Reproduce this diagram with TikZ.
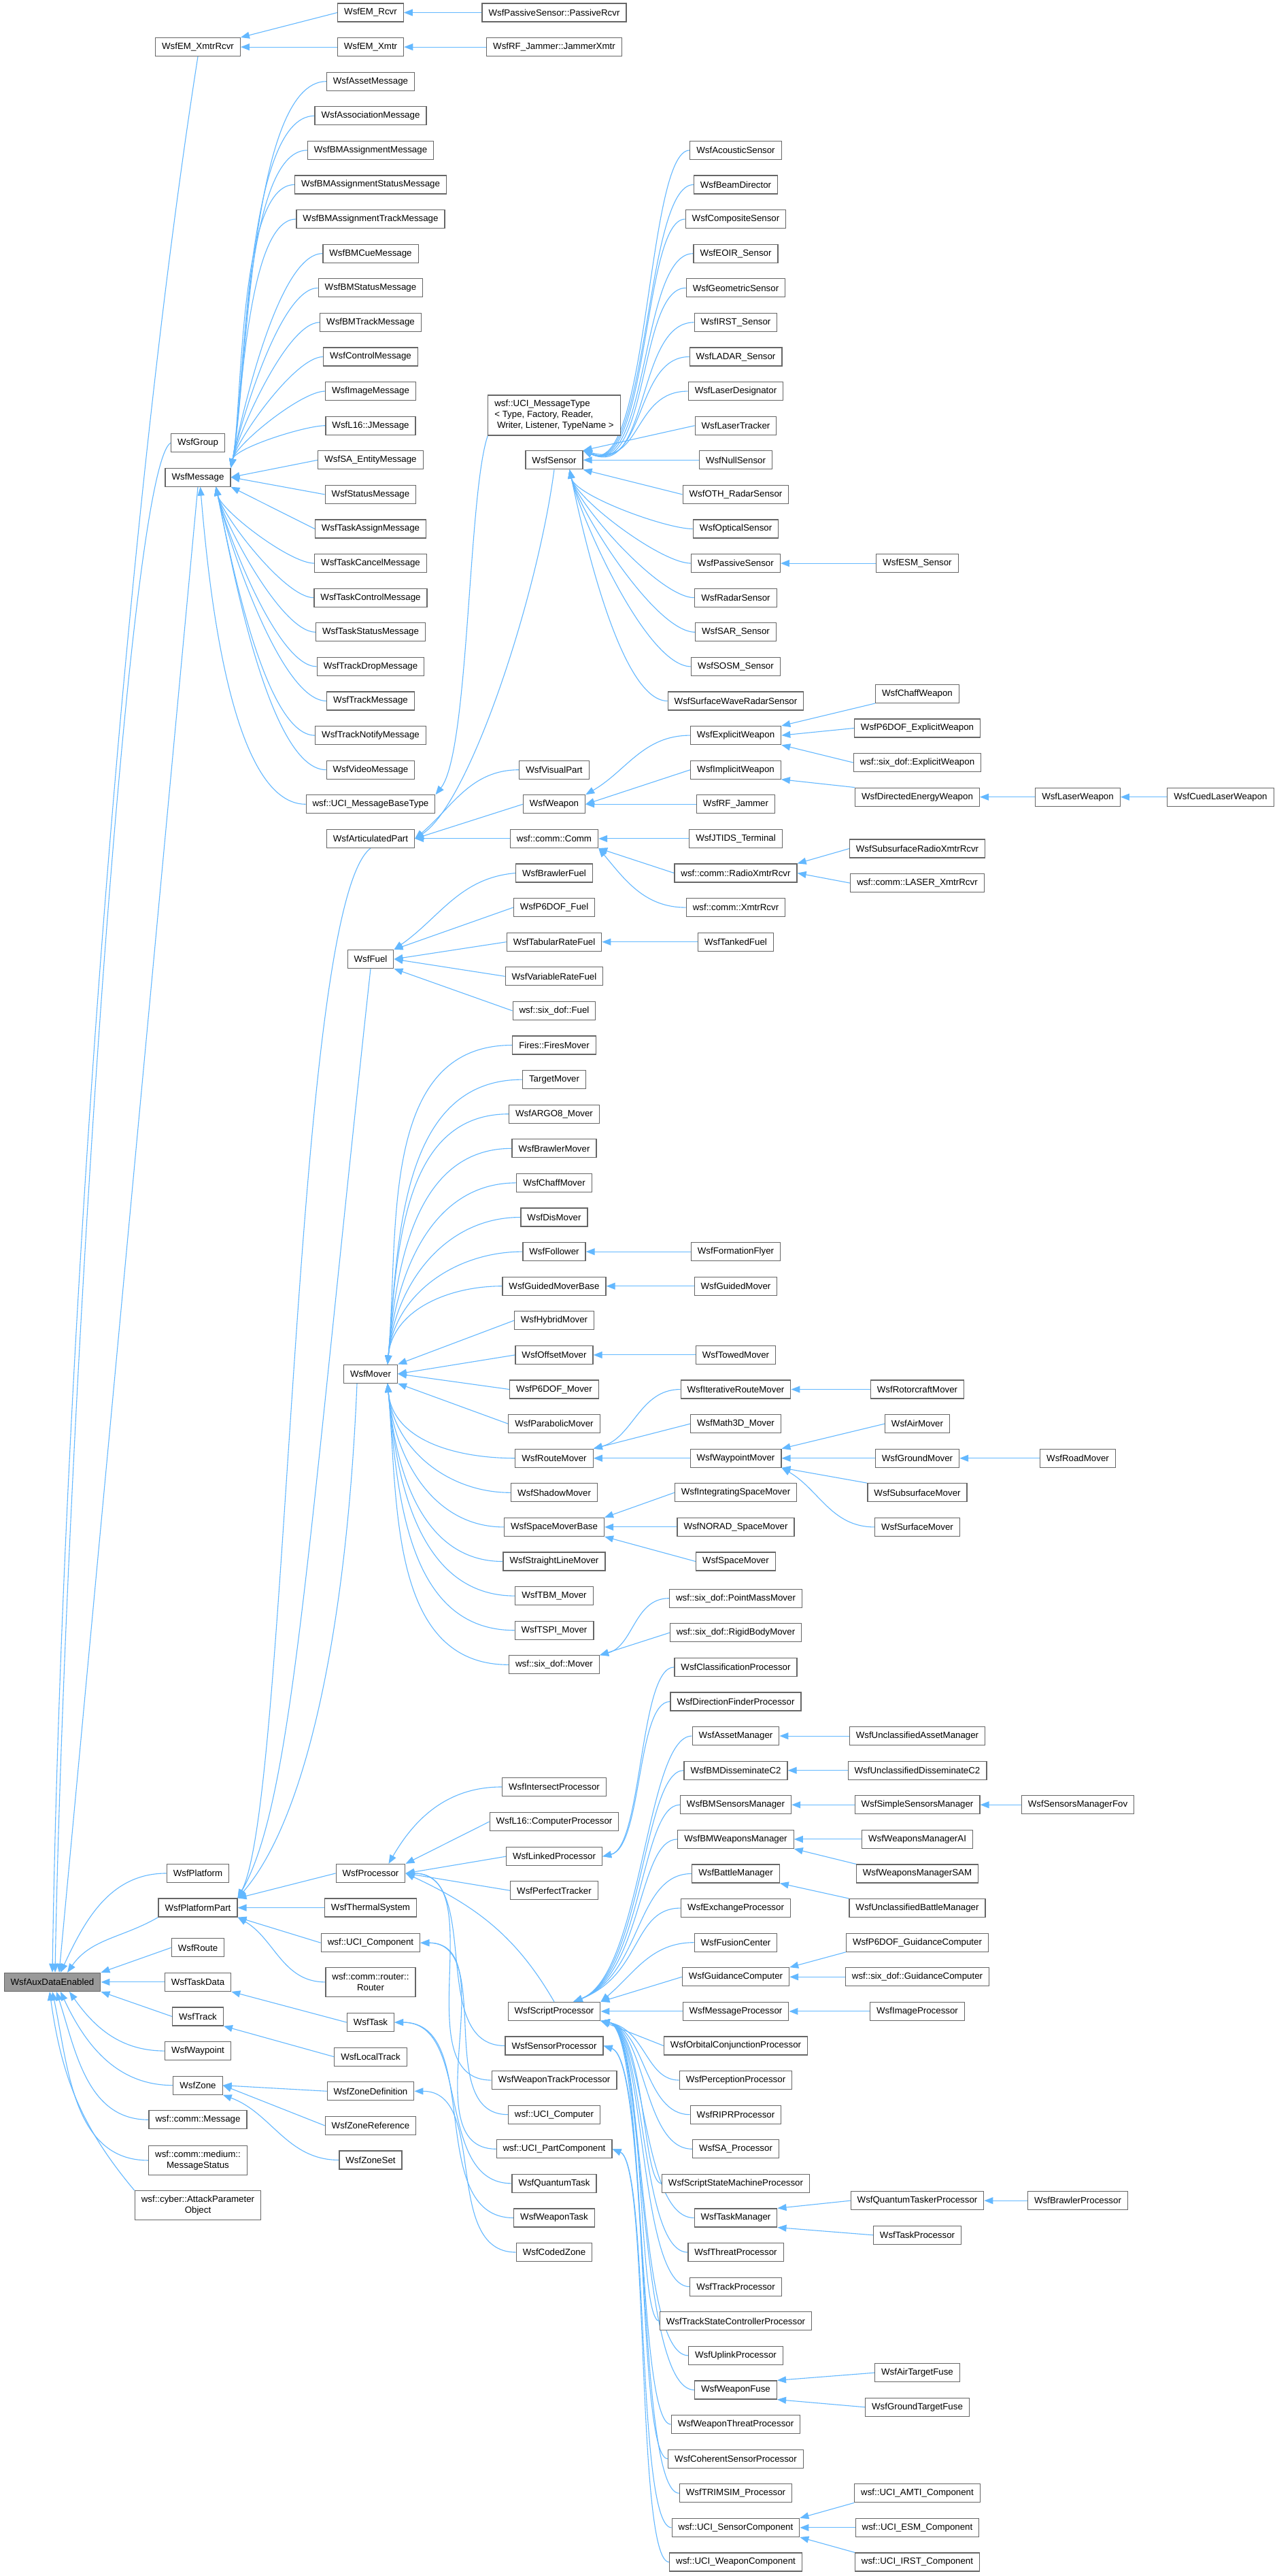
\documentclass[tikz,border=0pt]{standalone}
\usepackage{fontspec}
\setmainfont{Liberation Sans}
\usetikzlibrary{arrows.meta,backgrounds}
\definecolor{edgeblue}{HTML}{63B8FF}
\definecolor{boxgray}{HTML}{666666}
\definecolor{rootgray}{HTML}{999999}

\begin{document}
\begin{tikzpicture}[x=1pt, y=-50.6pt]
	\tikzset{every node/.style=
        {draw=boxgray, fill=white, line width=1.2pt, inner xsep=9.5pt, inner ysep=2pt,
         minimum height=27pt, font=\fontsize{13.3}{16}\selectfont},
      inheritline/.style={draw=edgeblue, line width=1.1pt, -{Triangle[length=13pt,width=10pt]}},
      fromabove/.style={out=180, in=78, looseness=.5},
      frombelow/.style={out=180, in=-78, looseness=.5},
      twolines/.style={align=center, minimum height=43pt}
     }
	\useasboundingbox (0,-0.3656) rectangle (1877,74.476);
	% level 0 and 1
	\node[fill=rootgray] (root) at (77,57.22) {WsfAuxDataEnabled};
	\node (l1n1) at (291,1) {WsfEM\_XmtrRcvr};
	\node (l1n2) at (291,12.5) {WsfGroup};
	\node (l1n3) at (291,13.5) {WsfMessage};
	\node (l1n4) at (291,54.06) {WsfPlatform};
	\node (l1n5) at (291,55.06) {WsfPlatformPart};
	\node (l1n6) at (291,56.22) {WsfRoute};
	\node (l1n7) at (291,57.22) {WsfTaskData};
	\node (l1n8) at (291,58.22) {WsfTrack};
	\node (l1n9) at (291,59.22) {WsfWaypoint};
	\node (l1n10) at (291,60.22) {WsfZone};
	\node (l1n11) at (291,61.22) {wsf::comm::Message};
	\node[twolines] (l1n12) at (291,62.4) {wsf::comm::medium::\\MessageStatus};
	\node[twolines] (l1n13) at (291,63.71) {wsf::cyber::AttackParameter\\Object};
	% level 2
	\node (l2n1) at (545,0) {WsfEM\_Rcvr};
	\node (l2n2) at (545,1) {WsfEM\_Xmtr};
	\node (l2n3) at (545,2) {WsfAssetMessage};
	\node (l2n4) at (545,3) {WsfAssociationMessage};
	\node (l2n5) at (545,4) {WsfBMAssignmentMessage};
	\node (l2n6) at (545,5) {WsfBMAssignmentStatusMessage};
	\node (l2n7) at (545,6) {WsfBMAssignmentTrackMessage};
	\node (l2n8) at (545,7) {WsfBMCueMessage};
	\node (l2n9) at (545,8) {WsfBMStatusMessage};
	\node (l2n10) at (545,9) {WsfBMTrackMessage};
	\node (l2n11) at (545,10) {WsfControlMessage};
	\node (l2n12) at (545,11) {WsfImageMessage};
	\node (l2n13) at (545,12) {WsfL16::JMessage};
	\node (l2n14) at (545,13) {WsfSA\_EntityMessage};
	\node (l2n15) at (545,14) {WsfStatusMessage};
	\node (l2n16) at (545,15) {WsfTaskAssignMessage};
	\node (l2n17) at (545,16) {WsfTaskCancelMessage};
	\node (l2n18) at (545,17) {WsfTaskControlMessage};
	\node (l2n19) at (545,18) {WsfTaskStatusMessage};
	\node (l2n20) at (545,19) {WsfTrackDropMessage};
	\node (l2n21) at (545,20) {WsfTrackMessage};
	\node (l2n22) at (545,21) {WsfTrackNotifyMessage};
	\node (l2n23) at (545,22) {WsfVideoMessage};
	\node (l2n24) at (545,23) {wsf::UCI\_MessageBaseType};
	\node (l2n25) at (545,24) {WsfArticulatedPart};
	\node (l2n26) at (545,27.5) {WsfFuel};
	\node (l2n27) at (545,39.55) {WsfMover};
	\node (l2n28) at (545,54.06) {WsfProcessor};
	\node (l2n29) at (545,55.06) {WsfThermalSystem};
	\node (l2n30) at (545,56.08) {wsf::UCI\_Component};
	\node[twolines] (l2n31) at (545,57.22) {wsf::comm::router::\\Router};
	\node (l2n32) at (545,58.39) {WsfTask};
	\node (l2n33) at (545,59.39) {WsfLocalTrack};
	\node (l2n34) at (545,60.39) {WsfZoneDefinition};
	\node (l2n35) at (545,61.39) {WsfZoneReference};
	\node (l2n36) at (545,62.39) {WsfZoneSet};
	% level 3
	\node (l3n1) at (815,0) {WsfPassiveSensor::PassiveRcvr};
	\node (l3n2) at (815,1) {WsfRF\_Jammer::JammerXmtr};
	\node[align=left, minimum height=59pt] (l3n3) at (815,11.7) {wsf::UCI\_MessageType\\< Type, Factory, Reader,\\~Writer, Listener, TypeName >};
	\node (l3n4) at (815,13) {WsfSensor};
	\node (l3n5) at (815,22) {WsfVisualPart};
	\node (l3n6) at (815,23) {WsfWeapon};
	\node (l3n7) at (815,24) {wsf::comm::Comm};
	\node (l3n8) at (815,25) {WsfBrawlerFuel};
	\node (l3n9) at (815,26) {WsfP6DOF\_Fuel};
	\node (l3n10) at (815,27) {WsfTabularRateFuel};
	\node (l3n11) at (815,28) {WsfVariableRateFuel};
	\node (l3n12) at (815,29) {wsf::six\_dof::Fuel};
	\node (l3n13) at (815,30) {Fires::FiresMover};
	\node (l3n14) at (815,31) {TargetMover};
	\node (l3n15) at (815,32) {WsfARGO8\_Mover};
	\node (l3n16) at (815,33) {WsfBrawlerMover};
	\node (l3n17) at (815,34) {WsfChaffMover};
	\node (l3n18) at (815,35) {WsfDisMover};
	\node (l3n19) at (815,36) {WsfFollower};
	\node (l3n20) at (815,37) {WsfGuidedMoverBase};
	\node (l3n21) at (815,38) {WsfHybridMover};
	\node (l3n22) at (815,39) {WsfOffsetMover};
	\node (l3n23) at (815,40) {WsfP6DOF\_Mover};
	\node (l3n24) at (815,41) {WsfParabolicMover};
	\node (l3n25) at (815,42) {WsfRouteMover};
	\node (l3n26) at (815,43) {WsfShadowMover};
	\node (l3n27) at (815,44) {WsfSpaceMoverBase};
	\node (l3n28) at (815,45) {WsfStraightLineMover};
	\node (l3n29) at (815,46) {WsfTBM\_Mover};
	\node (l3n30) at (815,47) {WsfTSPI\_Mover};
	\node (l3n31) at (815,48) {wsf::six\_dof::Mover};
	\node (l3n32) at (815,51.55) {WsfIntersectProcessor};
	\node (l3n33) at (815,52.56) {WsfL16::ComputerProcessor};
	\node (l3n34) at (815,53.57) {WsfLinkedProcessor};
	\node (l3n35) at (815,54.56) {WsfPerfectTracker};
	\node (l3n36) at (815,58.07) {WsfScriptProcessor};
	\node (l3n37) at (815,59.07) {WsfSensorProcessor};
	\node (l3n38) at (815,60.07) {WsfWeaponTrackProcessor};
	\node (l3n39) at (815,61.07) {wsf::UCI\_Computer};
	\node (l3n40) at (815,62.07) {wsf::UCI\_PartComponent};
	\node (l3n41) at (815,63.07) {WsfQuantumTask};
	\node (l3n42) at (815,64.07) {WsfWeaponTask};
	\node (l3n43) at (815,65.07) {WsfCodedZone};
	% level 4
	\node (l4n1) at (1082,4) {WsfAcousticSensor};
	\node (l4n2) at (1082,5) {WsfBeamDirector};
	\node (l4n3) at (1082,6) {WsfCompositeSensor};
	\node (l4n4) at (1082,7) {WsfEOIR\_Sensor};
	\node (l4n5) at (1082,8) {WsfGeometricSensor};
	\node (l4n6) at (1082,9) {WsfIRST\_Sensor};
	\node (l4n7) at (1082,10) {WsfLADAR\_Sensor};
	\node (l4n8) at (1082,11) {WsfLaserDesignator};
	\node (l4n9) at (1082,12) {WsfLaserTracker};
	\node (l4n10) at (1082,13) {WsfNullSensor};
	\node (l4n11) at (1082,14) {WsfOTH\_RadarSensor};
	\node (l4n12) at (1082,15) {WsfOpticalSensor};
	\node (l4n13) at (1082,16) {WsfPassiveSensor};
	\node (l4n14) at (1082,17) {WsfRadarSensor};
	\node (l4n15) at (1082,18) {WsfSAR\_Sensor};
	\node (l4n16) at (1082,19) {WsfSOSM\_Sensor};
	\node (l4n17) at (1082,20) {WsfSurfaceWaveRadarSensor};
	\node (l4n18) at (1082,21) {WsfExplicitWeapon};
	\node (l4n19) at (1082,22) {WsfImplicitWeapon};
	\node (l4n20) at (1082,23) {WsfRF\_Jammer};
	\node (l4n21) at (1082,24) {WsfJTIDS\_Terminal};
	\node (l4n22) at (1082,25) {wsf::comm::RadioXmtrRcvr};
	\node (l4n23) at (1082,26) {wsf::comm::XmtrRcvr};
	\node (l4n24) at (1082,27) {WsfTankedFuel};
	\node (l4n25) at (1082,36) {WsfFormationFlyer};
	\node (l4n26) at (1082,37) {WsfGuidedMover};
	\node (l4n27) at (1082,39) {WsfTowedMover};
	\node (l4n28) at (1082,40) {WsfIterativeRouteMover};
	\node (l4n29) at (1082,41) {WsfMath3D\_Mover};
	\node (l4n30) at (1082,42) {WsfWaypointMover};
	\node (l4n31) at (1082,43) {WsfIntegratingSpaceMover};
	\node (l4n32) at (1082,44) {WsfNORAD\_SpaceMover};
	\node (l4n33) at (1082,45) {WsfSpaceMover};
	\node (l4n34) at (1082,46.07) {wsf::six\_dof::PointMassMover};
	\node (l4n35) at (1082,47.07) {wsf::six\_dof::RigidBodyMover};
	\node (l4n36) at (1082,48.07) {WsfClassificationProcessor};
	\node (l4n37) at (1082,49.07) {WsfDirectionFinderProcessor};
	\node (l4n38) at (1082,50.07) {WsfAssetManager};
	\node (l4n39) at (1082,51.07) {WsfBMDisseminateC2};
	\node (l4n40) at (1082,52.07) {WsfBMSensorsManager};
	\node (l4n41) at (1082,53.07) {WsfBMWeaponsManager};
	\node (l4n42) at (1082,54.07) {WsfBattleManager};
	\node (l4n43) at (1082,55.07) {WsfExchangeProcessor};
	\node (l4n44) at (1082,56.07) {WsfFusionCenter};
	\node (l4n45) at (1082,57.07) {WsfGuidanceComputer};
	\node (l4n46) at (1082,58.07) {WsfMessageProcessor};
	\node (l4n47) at (1082,59.07) {WsfOrbitalConjunctionProcessor};
	\node (l4n48) at (1082,60.07) {WsfPerceptionProcessor};
	\node (l4n49) at (1082,61.07) {WsfRIPRProcessor};
	\node (l4n50) at (1082,62.07) {WsfSA\_Processor};
	\node (l4n51) at (1082,63.07) {WsfScriptStateMachineProcessor};
	\node (l4n52) at (1082,64.07) {WsfTaskManager};
	\node (l4n53) at (1082,65.07) {WsfThreatProcessor};
	\node (l4n54) at (1082,66.07) {WsfTrackProcessor};
	\node (l4n55) at (1082,67.07) {WsfTrackStateControllerProcessor};
	\node (l4n56) at (1082,68.07) {WsfUplinkProcessor};
	\node (l4n57) at (1082,69.07) {WsfWeaponFuse};
	\node (l4n58) at (1082,70.07) {WsfWeaponThreatProcessor};
	\node (l4n59) at (1082,71.07) {WsfCoherentSensorProcessor};
	\node (l4n60) at (1082,72.07) {WsfTRIMSIM\_Processor};
	\node (l4n61) at (1082,73.07) {wsf::UCI\_SensorComponent};
	\node (l4n62) at (1082,74.07) {wsf::UCI\_WeaponComponent};
	% level 5
	\node (l5n1) at (1349,16) {WsfESM\_Sensor};
	\node (l5n2) at (1349,19.79) {WsfChaffWeapon};
	\node (l5n3) at (1349,20.79) {WsfP6DOF\_ExplicitWeapon};
	\node (l5n4) at (1349,21.79) {wsf::six\_dof::ExplicitWeapon};
	\node (l5n5) at (1349,22.79) {WsfDirectedEnergyWeapon};
	\node (l5n6) at (1349,24.29) {WsfSubsurfaceRadioXmtrRcvr};
	\node (l5n7) at (1349,25.29) {wsf::comm::LASER\_XmtrRcvr};
	\node (l5n8) at (1349,40) {WsfRotorcraftMover};
	\node (l5n9) at (1349,41) {WsfAirMover};
	\node (l5n10) at (1349,42) {WsfGroundMover};
	\node (l5n11) at (1349,43) {WsfSubsurfaceMover};
	\node (l5n12) at (1349,44) {WsfSurfaceMover};
	\node (l5n13) at (1349,50.07) {WsfUnclassifiedAssetManager};
	\node (l5n14) at (1349,51.07) {WsfUnclassifiedDisseminateC2};
	\node (l5n15) at (1349,52.07) {WsfSimpleSensorsManager};
	\node (l5n16) at (1349,53.07) {WsfWeaponsManagerAI};
	\node (l5n17) at (1349,54.07) {WsfWeaponsManagerSAM};
	\node (l5n18) at (1349,55.07) {WsfUnclassifiedBattleManager};
	\node (l5n19) at (1349,56.07) {WsfP6DOF\_GuidanceComputer};
	\node (l5n20) at (1349,57.07) {wsf::six\_dof::GuidanceComputer};
	\node (l5n21) at (1349,58.07) {WsfImageProcessor};
	\node (l5n22) at (1349,63.57) {WsfQuantumTaskerProcessor};
	\node (l5n23) at (1349,64.57) {WsfTaskProcessor};
	\node (l5n24) at (1349,68.57) {WsfAirTargetFuse};
	\node (l5n25) at (1349,69.57) {WsfGroundTargetFuse};
	\node (l5n26) at (1349,72.07) {wsf::UCI\_AMTI\_Component};
	\node (l5n27) at (1349,73.07) {wsf::UCI\_ESM\_Component};
	\node (l5n28) at (1349,74.07) {wsf::UCI\_IRST\_Component};
	% level 6 and 7
	\node (l6n1) at (1585,22.79) {WsfLaserWeapon};
	\node (l6n2) at (1585,42) {WsfRoadMover};
	\node (l6n3) at (1585,52.07) {WsfSensorsManagerFov};
	\node (l6n4) at (1585,63.57) {WsfBrawlerProcessor};
	\node (l7n1) at (1795,22.79) {WsfCuedLaserWeapon};
	\begin{scope}[on background layer]
	\fill[white] (0,-0.3656) rectangle (1877,74.476);
	% into the root
	\draw[inheritline] (l1n1.south) .. controls (175,15.9) and (90,40) .. (root.north);
	\draw[inheritline] (l1n2.west) .. controls (185,13.3) and (95,42) .. ([xshift=4pt]root.north);
	\draw[inheritline] (l1n3.south) -- ([xshift=10pt]root.north);
	\draw[inheritline] (l1n4.west) to[out=180,in=65] ([xshift=12pt]root.north);
	\draw[inheritline] (l1n5.south west) to[out=210,in=55] ([xshift=22pt]root.north);
	\draw[inheritline] (l1n6.west) -- (root.north east);
	\draw[inheritline] (l1n7.west) -- (root.east);
	\draw[inheritline] (l1n8.west) -- (root.south east);
	\draw[inheritline] (l1n9.west) to[out=180,in=-55] ([xshift=25pt]root.south);
	\draw[inheritline] (l1n10.west) to[out=180,in=-65] ([xshift=12pt]root.south);
	\draw[inheritline] (l1n11.west) to[out=180,in=-72] ([xshift=6pt]root.south);
	\draw[inheritline] (l1n12.west) to[out=180,in=-78] (root.south);
	\draw[inheritline] (l1n13.north west) to[out=130,in=-82] ([xshift=-4pt]root.south);
	% level 2 to level 1
	\draw[inheritline] (l2n1.west) -- (l1n1.north east);
	\draw[inheritline] (l2n2.west) -- (l1n1.east);
	\draw[inheritline] (l2n3.west) to[fromabove] (l1n3.north east);
	\draw[inheritline] (l2n4.west) to[fromabove] (l1n3.north east);
	\draw[inheritline] (l2n5.west) to[fromabove] (l1n3.north east);
	\draw[inheritline] (l2n6.west) to[fromabove] (l1n3.north east);
	\draw[inheritline] (l2n7.west) to[fromabove] (l1n3.north east);
	\draw[inheritline] (l2n8.west) to[fromabove] (l1n3.north east);
	\draw[inheritline] (l2n9.west) to[fromabove] (l1n3.north east);
	\draw[inheritline] (l2n10.west) to[fromabove] (l1n3.north east);
	\draw[inheritline] (l2n11.west) to[fromabove] (l1n3.north east);
	\draw[inheritline] (l2n12.west) to[fromabove] (l1n3.north east);
	\draw[inheritline] (l2n13.west) to[fromabove] (l1n3.north east);
	\draw[inheritline] (l2n14.west) -- (l1n3.east);
	\draw[inheritline] (l2n15.west) -- (l1n3.east);
	\draw[inheritline] (l2n16.west) -- (l1n3.south east);
	\draw[inheritline] (l2n17.west) to[frombelow] ([xshift=-22pt]l1n3.south east);
	\draw[inheritline] (l2n18.west) to[frombelow] ([xshift=-22pt]l1n3.south east);
	\draw[inheritline] (l2n19.west) to[frombelow] ([xshift=-22pt]l1n3.south east);
	\draw[inheritline] (l2n20.west) to[frombelow] ([xshift=-22pt]l1n3.south east);
	\draw[inheritline] (l2n21.west) to[frombelow] ([xshift=-22pt]l1n3.south east);
	\draw[inheritline] (l2n22.west) to[frombelow] ([xshift=-22pt]l1n3.south east);
	\draw[inheritline] (l2n23.west) to[frombelow] ([xshift=-22pt]l1n3.south east);
	\draw[inheritline] (l2n24.west) to[out=180,in=-85,looseness=.6] ([xshift=-45pt]l1n3.south east);
	\draw[inheritline] (l2n25.south) .. controls (430,26) and (425,52) .. (l1n5.north east);
	\draw[inheritline] (l2n26.south) .. controls (450,45) and (430,52) .. (l1n5.north east);
	\draw[inheritline] ([xshift=-20pt]l2n27.south) .. controls (510,47) and (450,52.5) .. (l1n5.north east);
	\draw[inheritline] (l2n28.west) -- (l1n5.north east);
	\draw[inheritline] (l2n29.west) -- (l1n5.east);
	\draw[inheritline] (l2n30.west) -- (l1n5.south east);
	\draw[inheritline] (l2n31.west) to[out=180,in=-30] (l1n5.south east);
	\draw[inheritline] (l2n32.west) -- (l1n7.south east);
	\draw[inheritline] (l2n33.west) -- (l1n8.south east);
	\draw[inheritline] (l2n34.west) -- (l1n10.east);
	\draw[inheritline] (l2n35.west) -- (l1n10.east);
	\draw[inheritline] (l2n36.west) to[out=180,in=-20] (l1n10.south east);
	% level 3 to level 2
	\draw[inheritline] (l3n1.west) -- (l2n1.east);
	\draw[inheritline] (l3n2.west) -- (l2n2.east);
	\draw[inheritline] (l3n3.south west) .. controls (688,14) and (690,21.5) .. (l2n24.north east);
	\draw[inheritline] (l3n4.south) .. controls (790,17) and (690,23) .. (l2n25.east);
	\draw[inheritline] (l3n5.west) to[out=180,in=40] (l2n25.east);
	\draw[inheritline] (l3n6.west) -- (l2n25.east);
	\draw[inheritline] (l3n7.west) -- (l2n25.east);
	\draw[inheritline] (l3n8.west) to[out=185,in=35] (l2n26.north east);
	\draw[inheritline] (l3n9.west) -- (l2n26.north east);
	\draw[inheritline] (l3n10.west) -- (l2n26.east);
	\draw[inheritline] (l3n11.west) -- (l2n26.east);
	\draw[inheritline] (l3n12.west) -- (l2n26.south east);
	\draw[inheritline] (l3n13.west) to[out=180,in=85] ([xshift=-15pt]l2n27.north east);
	\draw[inheritline] (l3n14.west) to[out=180,in=85] ([xshift=-15pt]l2n27.north east);
	\draw[inheritline] (l3n15.west) to[out=180,in=85] ([xshift=-15pt]l2n27.north east);
	\draw[inheritline] (l3n16.west) to[out=180,in=85] ([xshift=-15pt]l2n27.north east);
	\draw[inheritline] (l3n17.west) to[out=180,in=85] ([xshift=-15pt]l2n27.north east);
	\draw[inheritline] (l3n18.west) to[out=180,in=85] ([xshift=-15pt]l2n27.north east);
	\draw[inheritline] (l3n19.west) to[out=180,in=85] ([xshift=-15pt]l2n27.north east);
	\draw[inheritline] (l3n20.west) to[out=180,in=85] ([xshift=-15pt]l2n27.north east);
	\draw[inheritline] (l3n21.west) -- (l2n27.north east);
	\draw[inheritline] (l3n22.west) -- (l2n27.east);
	\draw[inheritline] (l3n23.west) -- (l2n27.east);
	\draw[inheritline] (l3n24.west) -- (l2n27.south east);
	\draw[inheritline] (l3n25.west) to[out=180,in=-85] ([xshift=-15pt]l2n27.south east);
	\draw[inheritline] (l3n26.west) to[out=180,in=-85] ([xshift=-15pt]l2n27.south east);
	\draw[inheritline] (l3n27.west) to[out=180,in=-85] ([xshift=-15pt]l2n27.south east);
	\draw[inheritline] (l3n28.west) to[out=180,in=-85] ([xshift=-15pt]l2n27.south east);
	\draw[inheritline] (l3n29.west) to[out=180,in=-85] ([xshift=-15pt]l2n27.south east);
	\draw[inheritline] (l3n30.west) to[out=180,in=-85] ([xshift=-15pt]l2n27.south east);
	\draw[inheritline] (l3n31.west) to[out=180,in=-85] ([xshift=-15pt]l2n27.south east);
	\draw[inheritline] (l3n32.west) to[out=180,in=60] ([xshift=-25pt]l2n28.north east);
	\draw[inheritline] (l3n33.west) -- (l2n28.north east);
	\draw[inheritline] (l3n34.west) -- (l2n28.east);
	\draw[inheritline] (l3n35.west) -- (l2n28.east);
	\draw[inheritline] (l3n36.north) to[out=120,in=-25] (l2n28.east);
	\draw[inheritline] (l3n37.west) to[out=180,in=0] (l2n28.east);
	\draw[inheritline] (l3n38.west) to[out=180,in=0] (l2n28.east);
	\draw[inheritline] (l3n39.west) to[out=180,in=0] (l2n30.east);
	\draw[inheritline] (l3n40.west) to[out=180,in=0] (l2n30.east);
	\draw[inheritline] (l3n41.west) to[out=180,in=0] (l2n32.east);
	\draw[inheritline] (l3n42.west) to[out=180,in=0] (l2n32.east);
	\draw[inheritline] (l3n43.west) to[out=180,in=0] (l2n34.east);
	% level 4 to level 3
	\draw[inheritline] (l4n1.west) .. controls (950,4) and (955,13.6) .. (l3n4.north east);
	\draw[inheritline] (l4n2.west) .. controls (947,5) and (955,13.6) .. (l3n4.north east);
	\draw[inheritline] (l4n3.west) .. controls (944,6) and (955,13.6) .. (l3n4.north east);
	\draw[inheritline] (l4n4.west) .. controls (941,7) and (955,13.6) .. (l3n4.north east);
	\draw[inheritline] (l4n5.west) .. controls (938,8) and (955,13.6) .. (l3n4.north east);
	\draw[inheritline] (l4n6.west) .. controls (935,9) and (955,13.6) .. (l3n4.north east);
	\draw[inheritline] (l4n7.west) .. controls (932,10) and (950,13.4) .. (l3n4.north east);
	\draw[inheritline] (l4n8.west) .. controls (930,11) and (945,13.2) .. (l3n4.north east);
	\draw[inheritline] (l4n9.west) -- (l3n4.north east);
	\draw[inheritline] (l4n10.west) -- (l3n4.east);
	\draw[inheritline] (l4n11.west) -- (l3n4.south east);
	\draw[inheritline] (l4n12.west) to[frombelow] ([xshift=-20pt]l3n4.south east);
	\draw[inheritline] (l4n13.west) to[frombelow] ([xshift=-20pt]l3n4.south east);
	\draw[inheritline] (l4n14.west) to[frombelow] ([xshift=-20pt]l3n4.south east);
	\draw[inheritline] (l4n15.west) to[frombelow] ([xshift=-20pt]l3n4.south east);
	\draw[inheritline] (l4n16.west) to[frombelow] ([xshift=-20pt]l3n4.south east);
	\draw[inheritline] (l4n17.west) to[frombelow] ([xshift=-20pt]l3n4.south east);
	\draw[inheritline] (l4n18.west) to[out=180,in=30] (l3n6.north east);
	\draw[inheritline] (l4n19.west) -- (l3n6.east);
	\draw[inheritline] (l4n20.west) -- (l3n6.east);
	\draw[inheritline] (l4n21.west) -- (l3n7.east);
	\draw[inheritline] (l4n22.west) -- (l3n7.south east);
	\draw[inheritline] (l4n23.west) to[out=180,in=-50] (l3n7.south east);
	\draw[inheritline] (l4n24.west) -- (l3n10.east);
	\draw[inheritline] (l4n25.west) -- (l3n19.east);
	\draw[inheritline] (l4n26.west) -- (l3n20.east);
	\draw[inheritline] (l4n27.west) -- (l3n22.east);
	\draw[inheritline] (l4n28.west) to[out=180,in=15] (l3n25.north east);
	\draw[inheritline] (l4n29.west) -- (l3n25.north east);
	\draw[inheritline] (l4n30.west) -- (l3n25.east);
	\draw[inheritline] (l4n31.west) -- (l3n27.north east);
	\draw[inheritline] (l4n32.west) -- (l3n27.east);
	\draw[inheritline] (l4n33.west) -- (l3n27.south east);
	\draw[inheritline] (l4n34.west) to[out=180,in=15] (l3n31.north east);
	\draw[inheritline] (l4n35.west) -- (l3n31.north east);
	\draw[inheritline] (l4n36.west) .. controls (940,48.07) and (945,53.3) .. (l3n34.east);
	\draw[inheritline] (l4n37.west) .. controls (936,49.07) and (945,53.3) .. (l3n34.east);
	\draw[inheritline] (l4n38.west) .. controls (950,50.07) and (945,57) .. ([xshift=-40pt]l3n36.north east);
	\draw[inheritline] (l4n39.west) .. controls (946,51.07) and (945,57) .. ([xshift=-40pt]l3n36.north east);
	\draw[inheritline] (l4n40.west) .. controls (942,52.07) and (945,57) .. ([xshift=-40pt]l3n36.north east);
	\draw[inheritline] (l4n41.west) .. controls (938,53.07) and (945,57) .. ([xshift=-40pt]l3n36.north east);
	\draw[inheritline] (l4n42.west) .. controls (934,54.07) and (945,57) .. ([xshift=-40pt]l3n36.north east);
	\draw[inheritline] (l4n43.west) .. controls (930,55.07) and (945,57) .. ([xshift=-40pt]l3n36.north east);
	\draw[inheritline] (l4n44.west) to[out=180,in=40] (l3n36.north east);
	\draw[inheritline] (l4n45.west) -- (l3n36.north east);
	\draw[inheritline] (l4n46.west) -- (l3n36.east);
	\draw[inheritline] (l4n47.west) -- (l3n36.south east);
	\draw[inheritline] (l4n48.west) .. controls (950,60.07) and (950,58.6) .. (l3n36.south east);
	\draw[inheritline] (l4n49.west) .. controls (948,61.07) and (950,58.6) .. (l3n36.south east);
	\draw[inheritline] (l4n50.west) .. controls (946,62.07) and (950,58.6) .. (l3n36.south east);
	\draw[inheritline] (l4n51.west) .. controls (944,63.07) and (950,58.6) .. (l3n36.south east);
	\draw[inheritline] (l4n52.west) .. controls (942,64.07) and (950,58.6) .. (l3n36.south east);
	\draw[inheritline] (l4n53.west) .. controls (940,65.07) and (950,58.6) .. (l3n36.south east);
	\draw[inheritline] (l4n54.west) .. controls (938,66.07) and (950,58.6) .. (l3n36.south east);
	\draw[inheritline] (l4n55.west) .. controls (936,67.07) and (950,58.6) .. (l3n36.south east);
	\draw[inheritline] (l4n56.west) .. controls (935,68.07) and (950,58.6) .. (l3n36.south east);
	\draw[inheritline] (l4n57.west) .. controls (935,69.07) and (950,58.6) .. (l3n36.south east);
	\draw[inheritline] (l4n58.west) .. controls (935,70.07) and (950,58.6) .. (l3n36.south east);
	\draw[inheritline] (l4n59.west) .. controls (935,71.07) and (955,59.5) .. (l3n37.east);
	\draw[inheritline] (l4n60.west) .. controls (935,72.07) and (955,59.5) .. (l3n37.east);
	\draw[inheritline] (l4n61.west) .. controls (935,73.07) and (955,62.5) .. (l3n40.east);
	\draw[inheritline] (l4n62.west) .. controls (935,74.07) and (955,62.5) .. (l3n40.east);
	% level 5 to level 4
	\draw[inheritline] (l5n1.west) -- (l4n13.east);
	\draw[inheritline] (l5n2.south west) -- (l4n18.north east);
	\draw[inheritline] (l5n3.west) -- (l4n18.east);
	\draw[inheritline] (l5n4.west) -- (l4n18.south east);
	\draw[inheritline] (l5n5.north west) -- (l4n19.south east);
	\draw[inheritline] (l5n6.west) -- (l4n22.north east);
	\draw[inheritline] (l5n7.west) -- (l4n22.east);
	\draw[inheritline] (l5n8.west) -- (l4n28.east);
	\draw[inheritline] (l5n9.west) -- (l4n30.north east);
	\draw[inheritline] (l5n10.west) -- (l4n30.east);
	\draw[inheritline] (l5n11.north west) -- (l4n30.south east);
	\draw[inheritline] (l5n12.west) to[out=180,in=-30] (l4n30.south east);
	\draw[inheritline] (l5n13.west) -- (l4n38.east);
	\draw[inheritline] (l5n14.west) -- (l4n39.east);
	\draw[inheritline] (l5n15.west) -- (l4n40.east);
	\draw[inheritline] (l5n16.west) -- (l4n41.east);
	\draw[inheritline] (l5n17.north west) -- (l4n41.south east);
	\draw[inheritline] (l5n18.north west) -- (l4n42.south east);
	\draw[inheritline] (l5n19.south west) -- (l4n45.north east);
	\draw[inheritline] (l5n20.west) -- (l4n45.east);
	\draw[inheritline] (l5n21.west) -- (l4n46.east);
	\draw[inheritline] (l5n22.west) -- (l4n52.north east);
	\draw[inheritline] (l5n23.west) -- (l4n52.south east);
	\draw[inheritline] (l5n24.west) -- (l4n57.north east);
	\draw[inheritline] (l5n25.west) -- (l4n57.south east);
	\draw[inheritline] (l5n26.south west) -- (l4n61.north east);
	\draw[inheritline] (l5n27.west) -- (l4n61.east);
	\draw[inheritline] (l5n28.north west) -- (l4n61.south east);
	% levels 6 and 7
	\draw[inheritline] (l6n1.west) -- (l5n5.east);
	\draw[inheritline] (l6n2.west) -- (l5n10.east);
	\draw[inheritline] (l6n3.west) -- (l5n15.east);
	\draw[inheritline] (l6n4.west) -- (l5n22.east);
	\draw[inheritline] (l7n1.west) -- (l6n1.east);
	\end{scope}
\end{tikzpicture}
\end{document}
